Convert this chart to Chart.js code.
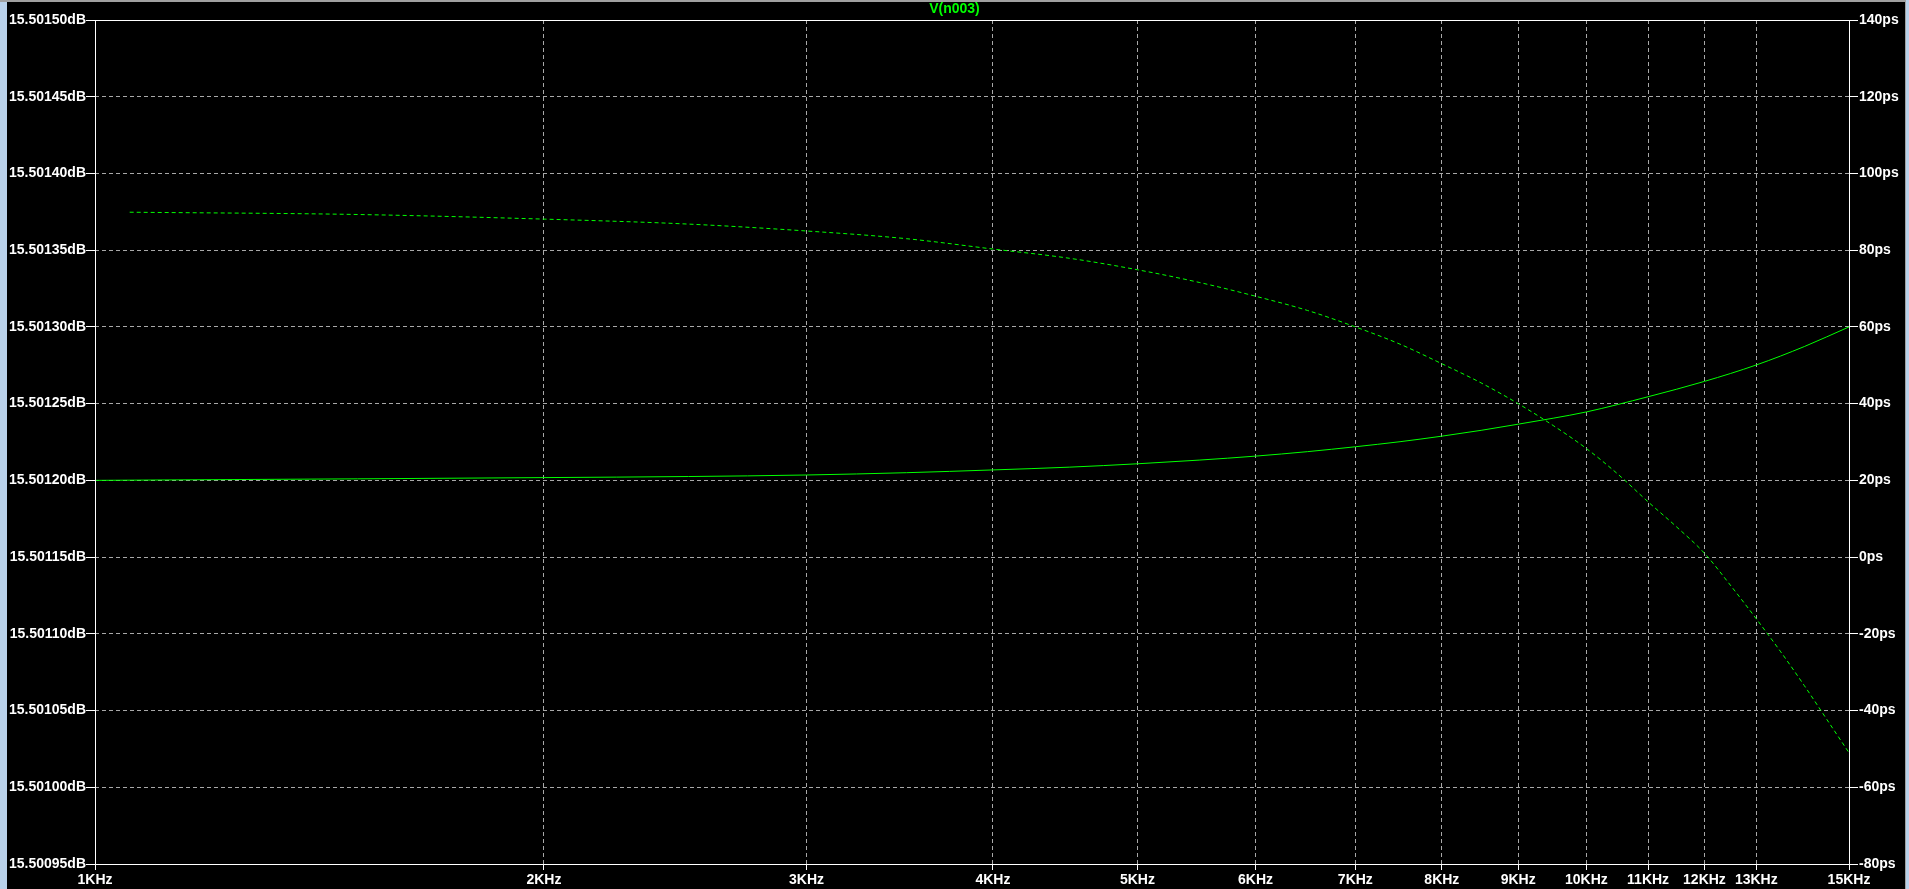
<!DOCTYPE html>
<html>
<head>
<meta charset="utf-8">
<title>V(n003)</title>
<script src="https://cdn.jsdelivr.net/npm/chart.js@4/dist/chart.umd.min.js"></script>
<style>
    html, body { margin: 0; padding: 0; background: #000; overflow: hidden; }
    #wrap { position: relative; width: 1909px; height: 889px; }
    #plot { position: absolute; left: 0; top: 0; }
    .edge-left { position: absolute; left: 0; top: 0; width: 7px; height: 889px; background: #b9d1ea; }
    .edge-top { position: absolute; left: 0; top: 0; width: 1909px; height: 2px; background: #a0a0a0; }
    .edge-right { position: absolute; right: 0; top: 0; width: 3px; height: 889px; background: #b9d1ea; border-left: 1px solid #a0a0a0; }
</style>
</head>
<body>
<div id="wrap">
    <canvas id="plot" width="1909" height="889"></canvas>
    <div class="edge-left"></div>
    <div class="edge-top"></div>
    <div class="edge-right"></div>
</div>
<script>
// ==========================
// data
// ==========================
const freqMag = [1000, 1500, 2000, 2500, 3000, 3500, 4000, 4500, 5000, 5500, 6000, 6500, 7000, 7500,
    8000, 8500, 9000, 9500, 10000, 11000, 12000, 13000, 14000, 15000];
const magDb = [15.5012000, 15.5012010, 15.5012018, 15.5012025, 15.5012035, 15.5012050, 15.5012068,
    15.5012086, 15.5012108, 15.5012132, 15.5012158, 15.5012187, 15.5012219, 15.5012252, 15.5012288,
    15.5012326, 15.5012366, 15.5012405, 15.5012446, 15.5012545, 15.5012645, 15.5012752, 15.5012872,
    15.5013000];

const freqDelay = [1055, 1500, 2000, 2500, 3000, 3500, 4000, 4500, 5000, 5500, 6000, 6500, 7000, 7500,
    8000, 8500, 9000, 9500, 10000, 10500, 11000, 11500, 12000, 12500, 13000, 13500, 14000, 14500, 15000];
const delayPs = [89.9, 89.3, 88.1, 86.8, 85.0, 83.0, 80.3, 77.9, 74.9, 71.6, 68.0, 64.3, 60.0, 55.5,
    50.4, 45.4, 40.0, 34.3, 28.3, 21.6, 14.4, 7.8, 1.0, -7.5, -16.1, -24.7, -33.5, -42.4, -51.0];

const freqTicks = [1000, 2000, 3000, 4000, 5000, 6000, 7000, 8000, 9000, 10000, 11000, 12000, 13000, 15000];
const dbTicks = [15.50095, 15.50100, 15.50105, 15.50110, 15.50115, 15.50120, 15.50125,
    15.50130, 15.50135, 15.50140, 15.50145, 15.50150];
const psTicks = [-80, -60, -40, -20, 0, 20, 40, 60, 80, 100, 120, 140];

const TRACE = '#00ff00';
const GRID = '#a8a8a8';
const FONT = { family: "'Liberation Sans', Arial, sans-serif", size: 14, weight: 'bold' };

// white frame round the plot area
const frame = {
    id: 'frame',
    afterDraw(chart) {
        const a = chart.chartArea;
        const ctx = chart.ctx;
        ctx.save();
        ctx.strokeStyle = '#ffffff';
        ctx.lineWidth = 1;
        ctx.strokeRect(Math.round(a.left) + 0.5, Math.round(a.top) + 0.5,
            Math.round(a.right - a.left), Math.round(a.bottom - a.top));
        ctx.restore();
    }
};

const blackBg = {
    id: 'blackBg',
    beforeDraw(chart) {
        const ctx = chart.ctx;
        ctx.save();
        ctx.fillStyle = '#000';
        ctx.fillRect(0, 0, chart.width, chart.height);
        ctx.restore();
    }
};

function fixTicks(values) {
    return scale => { scale.ticks = values.map(v => ({ value: v })); };
}

new Chart(document.getElementById('plot').getContext('2d'), {
    type: 'line',
    data: {
        datasets: [{
            label: 'V(n003) dB',
            data: freqMag.map((f, i) => ({ x: f, y: magDb[i] })),
            yAxisID: 'y',
            borderColor: TRACE,
            borderWidth: 1,
            pointRadius: 0,
            cubicInterpolationMode: 'monotone'
        }, {
            label: 'V(n003) group delay',
            data: freqDelay.map((f, i) => ({ x: f, y: delayPs[i] })),
            yAxisID: 'y2',
            borderColor: TRACE,
            borderWidth: 1,
            borderDash: [4, 3],
            pointRadius: 0,
            cubicInterpolationMode: 'monotone'
        }]
    },
    options: {
        responsive: false,
        devicePixelRatio: 1,
        animation: false,
        layout: { padding: 0 },
        scales: {
            x: {
                type: 'logarithmic',
                min: 1000,
                max: 15000,
                afterBuildTicks: fixTicks(freqTicks),
                afterFit: scale => { scale.height = 25; },
                grid: {
                    color: GRID,
                    tickColor: '#ffffff',
                    tickLength: 6,
                    tickBorderDash: []
                },
                border: { display: false, dash: [4, 3] },
                ticks: {
                    autoSkip: false,
                    maxRotation: 0,
                    color: '#ffffff',
                    font: FONT,
                    padding: 2,
                    callback: v => (v / 1000) + 'KHz'
                }
            },
            y: {
                position: 'left',
                min: 15.50095,
                max: 15.50150,
                afterBuildTicks: fixTicks(dbTicks),
                afterFit: scale => { scale.width = 95; },
                grid: {
                    color: GRID,
                    tickColor: '#ffffff',
                    tickLength: 9,
                    tickBorderDash: []
                },
                border: { display: false, dash: [4, 3] },
                ticks: {
                    color: '#ffffff',
                    font: FONT,
                    padding: 0,
                    callback: v => v.toFixed(5) + 'dB'
                }
            },
            y2: {
                position: 'right',
                min: -80,
                max: 140,
                afterBuildTicks: fixTicks(psTicks),
                afterFit: scale => { scale.width = 60; },
                grid: {
                    drawOnChartArea: false,
                    tickColor: '#ffffff',
                    tickLength: 9
                },
                border: { display: false },
                ticks: {
                    color: '#ffffff',
                    font: FONT,
                    padding: 1,
                    callback: v => v + 'ps'
                }
            }
        },
        plugins: {
            legend: { display: false },
            tooltip: { enabled: false },
            title: {
                display: true,
                text: 'V(n003)',
                color: TRACE,
                font: FONT,
                padding: { top: 1, bottom: 2.2 }
            }
        }
    },
    plugins: [blackBg, frame]
});
</script>
</body>
</html>
